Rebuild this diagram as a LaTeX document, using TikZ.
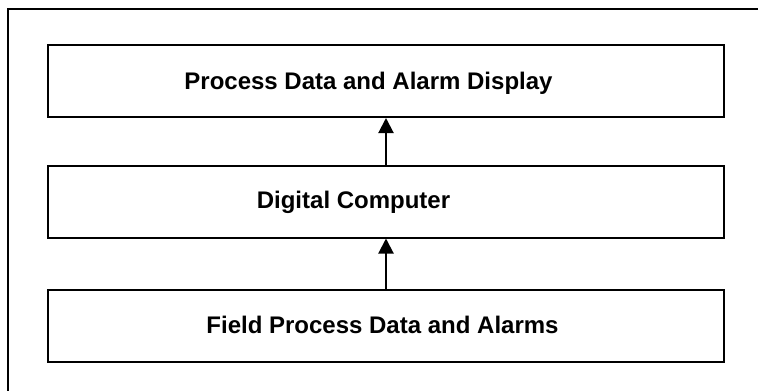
\documentclass[tikz,border=0pt]{standalone}
\usepackage{fontspec}
\setmainfont{Liberation Sans}
\usetikzlibrary{arrows.meta}
\tikzset{
  layer/.style={draw,line width=2pt,minimum width=676pt,minimum height=72pt,inner sep=0pt},
  caption/.style={anchor=base,inner sep=0pt,font=\bfseries\fontsize{24}{28}\selectfont},
  flow/.style={line width=2pt,-{Triangle[length=15pt,width=15pt]}}
}
\begin{document}
\begin{tikzpicture}[x=1pt,y=-1pt]
  \useasboundingbox (0,0) rectangle (758,391);
  % frame, only left and top edges show
  \coordinate (fbl) at (8,400);
  \coordinate (ftl) at (8,9);
  \coordinate (ftr) at (770,9);
  \begin{scope}
    \clip (0,0) rectangle (758,391);
    \draw[line width=2pt] (fbl) -- (ftl) -- (ftr);
  \end{scope}
  \node[layer] (display) at (386,81) {};
  \node[layer] (computer) at (386,201.5) {};
  \node[layer] (field) at (386,325.5) {};
  \node[caption] (displaytxt) at (368.5,89) {Process Data and Alarm Display};
  \node[caption] (computertxt) at (353.5,208) {Digital Computer};
  \node[caption] (fieldtxt) at (382.5,333) {Field Process Data and Alarms};
  \draw[flow] (computer) -- (display);
  \draw[flow] (field) -- (computer);
\end{tikzpicture}
\end{document}
